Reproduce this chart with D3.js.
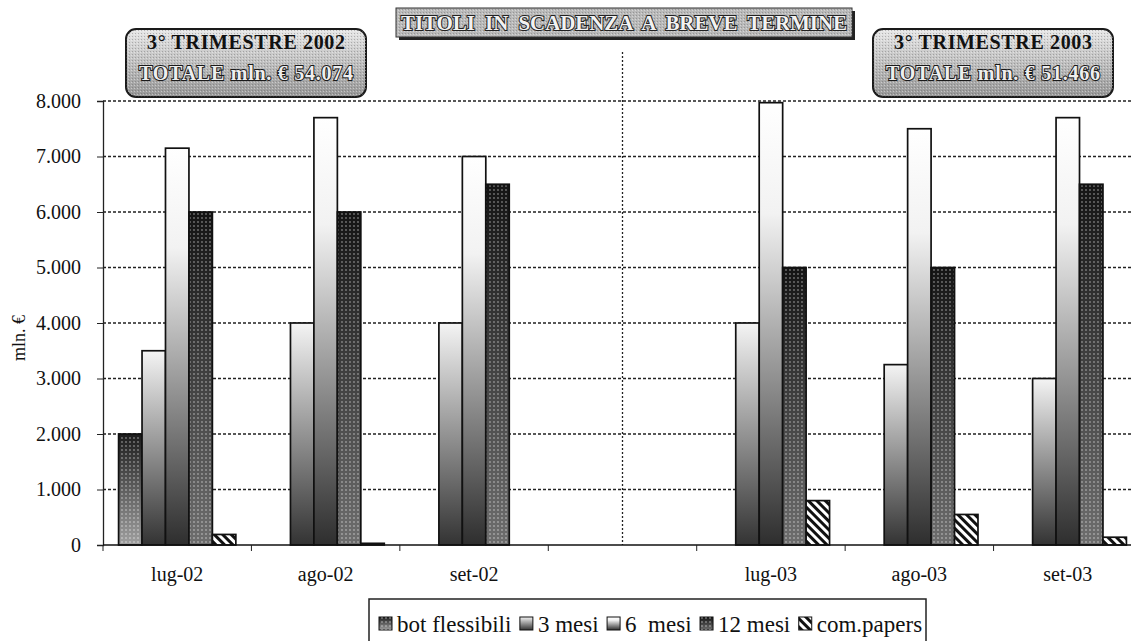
<!DOCTYPE html>
<html>
<head>
<meta charset="utf-8">
<script src="https://cdn.jsdelivr.net/npm/d3@7"></script>
<style>
	body { margin: 0; background: #fff; }
	text { font-family: "Liberation Serif", "Times New Roman", serif; }
</style>
</head>
<body>
<div id="chart"></div>
<script>
var width = 1131,
		height = 641;

//  Data
var months = ["lug-02", "ago-02", "set-02", "", "lug-03", "ago-03", "set-03"];
var seriesNames = ["bot flessibili", "3 mesi", "6  mesi", "12 mesi", "com.papers"];
var botFlessibili = [2000, 0, 0, null, 0, 0, 0];
var mesi3 = [3500, 4000, 4000, null, 4000, 3250, 3000];
var mesi6 = [7150, 7700, 7000, null, 7970, 7500, 7700];
var mesi12 = [6000, 6000, 6500, null, 5000, 5000, 6500];
var comPapers = [190, 30, 0, null, 800, 550, 140];
var yTicks = [0, 1000, 2000, 3000, 4000, 5000, 6000, 7000, 8000];
var titleText = "TITOLI  IN  SCADENZA  A  BREVE  TERMINE";
var box2002 = ["3° TRIMESTRE 2002", "TOTALE mln. € 54.074"];
var box2003 = ["3° TRIMESTRE 2003", "TOTALE mln. € 51.466"];

var seriesValues = [botFlessibili, mesi3, mesi6, mesi12, comPapers];
var slots = months.map(function(m, i) { return m === "" ? "gap" + i : m; });

var it = d3.formatLocale({decimal: ",", thousands: ".", grouping: [3], currency: ["", "€"]});
var fmt = it.format(",");

var margin = {left: 103, right: 1142, top: 101, bottom: 545};

var svg = d3.select("#chart").append("svg").attr("width", width)
	.attr("height", height);

var defs = svg.append("defs");

//  Gradients for the bars (per bar, top to bottom)
function grad(id, stops) {
	var g = defs.append("linearGradient").attr("id", id)
		.attr("x1", 0).attr("y1", 0).attr("x2", 0).attr("y2", 1);
	stops.forEach(function(s) {
		g.append("stop").attr("offset", s[0]).attr("stop-color", s[1]);
	});
}
grad("gBot", [["0%", "#1c1c1c"], ["100%", "#a0a0a0"]]);
grad("g3", [["0%", "#f4f4f4"], ["100%", "#333333"]]);
grad("g6", [["0%", "#ffffff"], ["25%", "#f2f2f2"], ["100%", "#2e2e2e"]]);
grad("g12", [["0%", "#141414"], ["100%", "#6e6e6e"]]);
grad("gBox", [["0%", "#e8e8e8"], ["100%", "#969696"]]);

var dots = defs.append("pattern").attr("id", "dots").attr("width", 4)
	.attr("height", 4).attr("patternUnits", "userSpaceOnUse");
dots.append("circle").attr("cx", 2).attr("cy", 2).attr("r", 0.9)
	.attr("fill", "#fff").attr("fill-opacity", 0.4);

var grain = defs.append("pattern").attr("id", "grain").attr("width", 3)
	.attr("height", 3).attr("patternUnits", "userSpaceOnUse");
grain.append("rect").attr("width", 1).attr("height", 1).attr("fill", "#555")
	.attr("fill-opacity", 0.35);
grain.append("rect").attr("x", 2).attr("y", 1).attr("width", 1).attr("height", 1)
	.attr("fill", "#fff").attr("fill-opacity", 0.4);

var hatch = defs.append("pattern").attr("id", "hatch").attr("width", 6)
	.attr("height", 6).attr("patternUnits", "userSpaceOnUse")
	.attr("patternTransform", "rotate(-45)");
hatch.append("rect").attr("width", 6).attr("height", 6).attr("fill", "#fff");
hatch.append("rect").attr("width", 3).attr("height", 6).attr("fill", "#111");

var fills = ["url(#gBot)", "url(#g3)", "url(#g6)", "url(#g12)", "url(#hatch)"];
var dotted = [true, false, false, true, false];

//  Scales
var x0 = d3.scaleBand().domain(slots).range([margin.left, margin.right])
	.paddingInner(0.21).paddingOuter(0.105);
var x1 = d3.scaleBand().domain(seriesNames).range([0, x0.bandwidth()]);
var y = d3.scaleLinear().domain([0, 8000]).range([margin.bottom, margin.top]);

//  Grid lines
svg.append("g").selectAll("line").data(yTicks.filter(function(d) { return d > 0; }))
	.enter().append("line")
	.attr("x1", margin.left).attr("x2", width)
	.attr("y1", function(d) { return y(d); }).attr("y2", function(d) { return y(d); })
	.attr("stroke", "#222").attr("stroke-width", 1.3).attr("stroke-dasharray", "3,2");

//  Vertical divider between the two years
var gapX = x0(slots[3]) + x0.bandwidth() / 2;
svg.append("line").attr("x1", gapX).attr("x2", gapX).attr("y1", 52)
	.attr("y2", margin.bottom).attr("stroke", "#222").attr("stroke-width", 1.3)
	.attr("stroke-dasharray", "2,2");

//  Bars
var flat = [];
slots.forEach(function(s, i) {
	seriesNames.forEach(function(n, j) {
		var v = seriesValues[j][i];
		if (v) flat.push({slot: s, name: n, idx: j, value: v});
	});
});

var bars = svg.append("g");
bars.selectAll("rect.bar").data(flat).enter().append("rect").attr("class", "bar")
	.attr("x", function(d) { return x0(d.slot) + x1(d.name); })
	.attr("y", function(d) { return y(d.value); })
	.attr("width", x1.bandwidth())
	.attr("height", function(d) { return y(0) - y(d.value); })
	.attr("fill", function(d) { return fills[d.idx]; })
	.attr("stroke", "#111").attr("stroke-width", 1.7);

bars.selectAll("rect.dot").data(flat.filter(function(d) { return dotted[d.idx]; }))
	.enter().append("rect").attr("class", "dot")
	.attr("x", function(d) { return x0(d.slot) + x1(d.name) + 1; })
	.attr("y", function(d) { return y(d.value) + 1; })
	.attr("width", x1.bandwidth() - 2)
	.attr("height", function(d) { return y(0) - y(d.value) - 2; })
	.attr("fill", "url(#dots)");

//  Axes
var yAxis = svg.append("g").attr("transform", "translate(" + margin.left + ",0)")
	.call(d3.axisLeft(y).tickValues(yTicks).tickFormat(fmt).tickSize(6).tickPadding(16));
yAxis.select(".domain").attr("stroke", "#222").attr("stroke-width", 1.3);
yAxis.selectAll(".tick line").attr("stroke", "#222");
yAxis.selectAll(".tick text").attr("font-size", 20).attr("fill", "#111")
	.style("font-family", "Liberation Serif");

svg.append("line").attr("x1", margin.left).attr("x2", width)
	.attr("y1", y(0)).attr("y2", y(0)).attr("stroke", "#111").attr("stroke-width", 1.6);

svg.append("g").selectAll("line").data(slots).enter().append("line")
	.attr("x1", function(d) { return x0(d) - x0.step() * 0.105; })
	.attr("x2", function(d) { return x0(d) - x0.step() * 0.105; })
	.attr("y1", y(0)).attr("y2", y(0) + 6).attr("stroke", "#222");

svg.append("g").selectAll("text").data(months.map(function(m, i) { return {m: m, s: slots[i]}; }))
	.enter().append("text")
	.attr("x", function(d) { return x0(d.s) + x0.bandwidth() / 2; })
	.attr("y", 581).attr("text-anchor", "middle").attr("font-size", 20)
	.attr("fill", "#111").text(function(d) { return d.m; });

svg.append("text").attr("transform", "translate(25,338)rotate(-90)")
	.attr("text-anchor", "middle").attr("font-size", 18).attr("fill", "#111")
	.text("mln. €");

//  Title box
svg.append("rect").attr("x", 399).attr("y", 11).attr("width", 456).attr("height", 29)
	.attr("fill", "#222");
svg.append("rect").attr("x", 396).attr("y", 8).attr("width", 456).attr("height", 29)
	.attr("fill", "#b9b9b9").attr("stroke", "#333").attr("stroke-width", 1);
svg.append("rect").attr("x", 396).attr("y", 8).attr("width", 456).attr("height", 29)
	.attr("fill", "url(#grain)");
svg.append("text").attr("x", 401).attr("y", 30).attr("font-size", 21)
	.attr("font-weight", "bold").attr("textLength", 446).attr("lengthAdjust", "spacing")
	.attr("fill", "#f2f2f2").attr("stroke", "#222").attr("stroke-width", 2)
	.attr("paint-order", "stroke").style("white-space", "pre").text(titleText);

//  Quarter boxes
function quarterBox(bx, lines) {
	var g = svg.append("g");
	g.append("rect").attr("x", bx).attr("y", 29).attr("width", 240).attr("height", 68)
		.attr("rx", 10).attr("fill", "url(#gBox)").attr("stroke", "#1a1a1a")
		.attr("stroke-width", 2);
	g.append("rect").attr("x", bx).attr("y", 29).attr("width", 240).attr("height", 68)
		.attr("rx", 10).attr("fill", "url(#grain)");
	g.append("text").attr("x", bx + 120).attr("y", 49).attr("text-anchor", "middle")
		.attr("font-size", 20).attr("font-weight", "bold").attr("fill", "#111")
		.attr("textLength", 198).attr("lengthAdjust", "spacing").text(lines[0]);
	g.append("text").attr("x", bx + 120).attr("y", 80).attr("text-anchor", "middle")
		.attr("font-size", 20).attr("font-weight", "bold").attr("fill", "#eeeeee")
		.attr("stroke", "#1a1a1a").attr("stroke-width", 2).attr("paint-order", "stroke")
		.attr("textLength", 214).attr("lengthAdjust", "spacing").text(lines[1]);
}
quarterBox(126, box2002);
quarterBox(873, box2003);

//  Legend
var legend = svg.append("g");
legend.append("rect").attr("x", 369).attr("y", 599).attr("width", 557).attr("height", 60)
	.attr("fill", "#fff").attr("stroke", "#222").attr("stroke-width", 1.5);
var lx = 379;
seriesNames.forEach(function(n, j) {
	legend.append("rect").attr("x", lx).attr("y", 617).attr("width", 13).attr("height", 13)
		.attr("fill", fills[j]).attr("stroke", "#111").attr("stroke-width", 1);
	if (dotted[j]) {
		legend.append("rect").attr("x", lx).attr("y", 617).attr("width", 13).attr("height", 13)
			.attr("fill", "url(#dots)");
	}
	var t = legend.append("text").attr("x", lx + 18).attr("y", 632).attr("font-size", 23)
		.attr("fill", "#111").style("white-space", "pre").text(n);
	lx += 18 + t.node().getComputedTextLength() + 8.5;
});
</script>
</body>
</html>
